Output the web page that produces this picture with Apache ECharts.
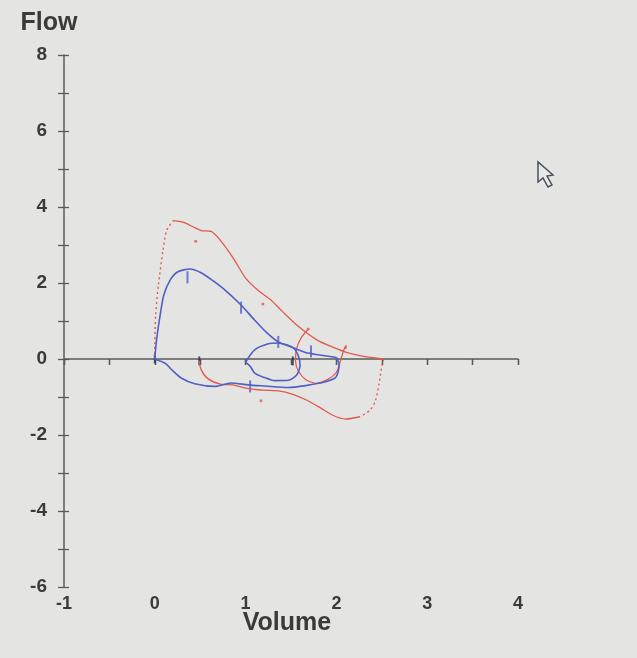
<!DOCTYPE html>
<html>
<head>
<meta charset="utf-8">
<script src="https://cdn.jsdelivr.net/npm/echarts@6/dist/echarts.min.js"></script>
<style>
  html, body { margin: 0; padding: 0; background: #e4e5e2; }
  #chart { width: 637px; height: 658px; }
</style>
</head>
<body>
<div id="chart"></div>
<script>
// volume / flow pairs
const redRise = [[0, 0], [0, 0.4], [0.01, 1.17], [0.04, 1.95], [0.09, 2.86], [0.13, 3.38], [0.2, 3.64]]
const redExp = [[0.2, 3.64], [0.31, 3.6], [0.42, 3.48], [0.51, 3.38], [0.62, 3.36], [0.72, 3.13],
  [0.86, 2.67], [1.0, 2.13], [1.14, 1.8], [1.27, 1.57], [1.41, 1.24], [1.58, 0.86], [1.78, 0.51],
  [1.96, 0.31], [2.13, 0.16], [2.3, 0.07], [2.52, 0]]
const redDrop = [[2.52, 0], [2.5, -0.2], [2.47, -0.65], [2.43, -1.1], [2.37, -1.35], [2.26, -1.52]]
const redInsp = [[2.26, -1.52], [2.1, -1.58], [1.96, -1.48], [1.82, -1.28], [1.67, -1.08], [1.52, -0.93],
  [1.36, -0.84], [1.19, -0.82], [1.03, -0.78], [0.86, -0.68], [0.72, -0.66], [0.58, -0.51],
  [0.51, -0.28], [0.49, -0.05]]
const redTidal = [[1.69, 0.79], [1.61, 0.55], [1.56, 0.26], [1.55, -0.05], [1.58, -0.31], [1.66, -0.54],
  [1.78, -0.64], [1.91, -0.53], [2.0, -0.35], [2.04, -0.09], [2.08, 0.23], [2.11, 0.37]]
const redDots = [[0.45, 3.1], [1.19, 1.45], [2.1, 0.3], [1.17, -1.1], [1.69, 0.79]]

const blueExp = [[0, 0], [0.02, 0.52], [0.06, 1.17], [0.1, 1.69], [0.17, 2.08], [0.25, 2.29], [0.39, 2.37],
  [0.51, 2.27], [0.64, 2.06], [0.78, 1.8], [0.95, 1.42], [1.09, 1.05], [1.23, 0.7], [1.36, 0.45],
  [1.52, 0.3], [1.66, 0.17], [1.8, 0.11], [2.0, 0.04]]
const blueInsp = [[2.0, 0.04], [2.03, -0.15], [2.02, -0.33], [1.99, -0.49], [1.88, -0.6], [1.66, -0.7],
  [1.47, -0.75], [1.21, -0.71], [1.03, -0.68], [0.84, -0.63], [0.66, -0.72], [0.44, -0.65],
  [0.29, -0.5], [0.18, -0.27], [0.12, -0.12], [0, 0]]
const blueTidal = [[1.0, -0.08], [1.1, 0.24], [1.25, 0.4], [1.36, 0.42], [1.52, 0.3], [1.58, 0.09],
  [1.6, -0.17], [1.56, -0.43], [1.47, -0.56], [1.32, -0.57], [1.21, -0.49], [1.1, -0.37],
  [1.05, -0.19], [1.0, -0.08]]
const blueMarks = [[0.36, 2.15], [0.95, 1.35], [1.36, 0.45], [1.72, 0.2], [1.05, -0.72]]
const darkMarks = [[0.49, -0.05], [1.52, -0.05], [0, 0]]

const xTicks = [-1, 4, 0.5]
const yTicks = [-6, 8, 1]

const RED = '#e2584c'
const BLUE = '#4f5fc6'
const AXIS = '#5a5a5a'
const TEXT = '#3a3a3a'
const FONT = 'Liberation Sans'

const chart = echarts.init(document.getElementById('chart'))

function line(data, color, type, width) {
  return {
    type: 'line', data, showSymbol: false, smooth: 0.25, silent: true,
    lineStyle: { color, width: width || 1.3, type: type || 'solid' },
  }
}

function marks(data, color, h) {
  return {
    type: 'scatter', data, symbol: 'rect', symbolSize: [2, h || 11], silent: true,
    itemStyle: { color },
  }
}

chart.setOption({
  backgroundColor: '#e4e5e2',
  animation: false,
  grid: { left: 64, right: 119, top: 55, bottom: 71, containLabel: false },
  xAxis: [
    {
      type: 'value', min: xTicks[0], max: xTicks[1], interval: xTicks[2],
      axisLine: { onZero: true, lineStyle: { color: AXIS, width: 1.5 } },
      axisTick: { show: true, length: 6, lineStyle: { color: AXIS, width: 1.3 } },
      axisLabel: { show: false }, splitLine: { show: false },
    },
    {
      type: 'value', min: xTicks[0], max: xTicks[1], interval: xTicks[2],
      axisLine: { onZero: true, show: false },
      axisTick: { show: true, inside: true, length: 6, lineStyle: { color: AXIS, width: 1.3 } },
      axisLabel: { show: false }, splitLine: { show: false },
    },
    {
      type: 'value', position: 'bottom', min: xTicks[0], max: xTicks[1], interval: 1,
      axisLine: { show: false, onZero: false }, axisTick: { show: false },
      splitLine: { show: false },
      axisLabel: { color: TEXT, fontSize: 18, fontWeight: 'bold', fontFamily: FONT, margin: 8 },
      name: 'Volume', nameLocation: 'middle', nameGap: 24, nameMoveOverlap: false,
      nameTextStyle: { color: TEXT, fontSize: 25, fontWeight: 'bold', fontFamily: FONT, padding: [0, 8, 0, 0] },
    },
  ],
  yAxis: [
    {
      type: 'value', position: 'left', min: yTicks[0], max: yTicks[1], interval: yTicks[2],
      axisLine: { show: true, onZero: false, lineStyle: { color: AXIS, width: 1.5 } },
      axisTick: { show: true, length: 6, lineStyle: { color: AXIS, width: 1.3 } },
      splitLine: { show: false },
      axisLabel: {
        color: TEXT, fontSize: 19, fontWeight: 'bold', fontFamily: FONT, margin: 17,
        formatter: v => (v % 2 === 0 ? String(v) : ''),
      },
      name: 'Flow', nameLocation: 'end', nameGap: 19,
      nameTextStyle: { color: TEXT, fontSize: 25, fontWeight: 'bold', fontFamily: FONT, padding: [0, 30, 0, 0] },
    },
    {
      type: 'value', position: 'left', offset: 0, min: yTicks[0], max: yTicks[1], interval: yTicks[2],
      axisLine: { show: false, onZero: false },
      axisTick: { show: true, inside: true, length: 5, lineStyle: { color: AXIS, width: 1.3 } },
      axisLabel: { show: false }, splitLine: { show: false },
    },
  ],
  series: [
    line(redRise, RED, [2, 3], 1.4),
    line(redExp, RED),
    line(redDrop, RED, [2, 3], 1.4),
    line(redInsp, RED),
    line(redTidal, RED, 'solid', 1.2),
    { type: 'scatter', data: redDots, symbolSize: 3, itemStyle: { color: RED }, silent: true },
    line(blueExp, BLUE, 'solid', 1.6),
    line(blueInsp, BLUE, 'solid', 1.6),
    line(blueTidal, BLUE, 'solid', 1.6),
    marks(blueMarks, BLUE, 12),
    marks(darkMarks, '#2a2a5a', 9),
  ],
  graphic: [{
    type: 'polygon', silent: true,
    shape: { points: [[538, 162], [538, 182], [543, 178], [548, 187], [552, 185], [547, 176], [553, 175]] },
    style: { fill: '#e8eae8', stroke: '#4a4f5a', lineWidth: 1.5 },
  }],
})
</script>
</body>
</html>
